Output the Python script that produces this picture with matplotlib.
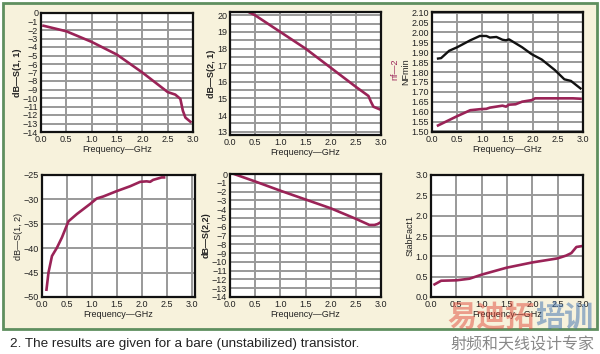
import matplotlib
matplotlib.use('Agg')
import matplotlib.pyplot as plt
from matplotlib.patches import Rectangle

FONT = ['Liberation Sans', 'DejaVu Sans']
CJK = ['Noto Sans CJK SC', 'DejaVu Sans']
plt.rcParams['font.family'] = FONT

PURPLE = '#9a2357'
BG = '#f7f2dc'

# S(1,1)
s11_f = [0.05, 0.5, 1.0, 1.5, 2.0, 2.5, 2.65, 2.75, 2.8, 2.85, 2.95]
s11_db = [-1.5, -2.15, -3.4, -4.9, -7.0, -9.3, -9.6, -10.1, -11.5, -12.3, -12.8]

# S(2,1)
s21_f = [0.37, 0.5, 1.0, 1.05, 1.5, 2.0, 2.5, 2.75, 2.8, 2.85, 2.97]
s21_db = [20.2, 20.0, 19.0, 18.9, 18.0, 16.85, 15.7, 15.15, 14.8, 14.5, 14.35]

# NFmin and nf(2)
nf_f = [0.12, 0.18, 0.34, 0.5, 0.76, 0.95, 1.08, 1.15, 1.28, 1.4, 1.47, 1.53,
        1.79, 1.98, 2.18, 2.44, 2.63, 2.76, 2.95]
nfmin = [1.868, 1.87, 1.907, 1.925, 1.96, 1.982, 1.982, 1.974, 1.977, 1.963,
         1.96, 1.965, 1.925, 1.89, 1.863, 1.81, 1.763, 1.755, 1.717]
nf2_f = [0.12, 0.5, 0.76, 0.95, 1.08, 1.15, 1.4, 1.47, 1.53, 1.66, 1.79, 1.98,
         2.05, 2.8, 2.95]
nf2 = [1.53, 1.577, 1.607, 1.612, 1.614, 1.62, 1.63, 1.625, 1.635, 1.637, 1.65,
       1.658, 1.667, 1.667, 1.665]

# S(1,2)
s12_f = [0.09, 0.13, 0.2, 0.3, 0.4, 0.53, 0.7, 0.97, 1.1, 1.23, 1.5, 1.77,
         1.97, 2.1, 2.17, 2.23, 2.4, 2.45]
s12_db = [-48.5, -45.0, -41.6, -39.9, -37.8, -34.5, -33.0, -30.9, -29.8, -29.4,
          -28.3, -27.3, -26.4, -26.3, -26.4, -26.0, -25.5, -25.5]

# S(2,2)
s22_f = [0.08, 0.5, 1.0, 1.5, 2.0, 2.5, 2.77, 2.87, 2.93, 2.99]
s22_db = [0.0, -0.85, -1.9, -2.9, -3.9, -5.1, -5.8, -5.8, -5.7, -5.5]

# StabFact1
k_f = [0.07, 0.2, 0.5, 0.76, 1.0, 1.49, 2.0, 2.5, 2.67, 2.77, 2.87, 2.97]
k_val = [0.31, 0.4, 0.41, 0.45, 0.55, 0.72, 0.85, 0.95, 1.02, 1.08, 1.23, 1.25]

x_ticks = [0.0, 0.5, 1.0, 1.5, 2.0, 2.5, 3.0]
x_labels = ['0.0', '0.5', '1.0', '1.5', '2.0', '2.5', '3.0']
k_ticks = [0.0, 0.5, 1.0, 1.5, 2.0, 2.5, 3.0]
k_labels = ['0.0', '0.5', '1.0', '2.5', '2.0', '2.5', '3.0']

W, H = 600, 354
fig = plt.figure(figsize=(6, 3.54), dpi=100)
fig.patch.set_facecolor('white')

# cream panel with green border (behind the axes)
fig.patches.append(Rectangle((3 / W, 1 - 329 / H), 594 / W, 326 / H,
                             transform=fig.transFigure, facecolor=BG,
                             edgecolor='#5f8f5f', linewidth=2, zorder=-10))

GRID = dict(color='#999999', lw=1.4)


def make_ax(px, ylim, yticks, ylabels, ylabel, bold_label=True, xlim=(0, 3.0), grid_y=None):
    x0, y0, x1, y1 = px
    rect = [x0 / W, 1 - y1 / H, (x1 - x0) / W, (y1 - y0) / H]
    # background axes that carries the white face and the grid
    bg = fig.add_axes(rect, zorder=-1)
    bg.set_facecolor('white')
    bg.set_xlim(*xlim)
    bg.set_ylim(*ylim)
    bg.set_xticks(x_ticks)
    bg.set_yticks(grid_y if grid_y is not None else yticks)
    bg.tick_params(length=0, labelleft=False, labelbottom=False)
    bg.grid(True, **GRID)
    for s in bg.spines.values():
        s.set_visible(False)

    ax = fig.add_axes(rect)
    ax.set_facecolor('none')
    ax.set_xlim(*xlim)
    ax.set_ylim(*ylim)
    ax.set_xticks(x_ticks)
    ax.set_xticklabels(x_labels)
    ax.set_yticks(yticks)
    ax.set_yticklabels(ylabels)
    ax.tick_params(which='both', length=0, labelsize=6.5, labelcolor='#222222', pad=2)
    for s in ax.spines.values():
        s.set_linewidth(1.6)
        s.set_color('#111111')
    ax.set_xlabel('Frequency\u2014GHz', fontsize=6.5, color='#222222', labelpad=1)
    ax.set_ylabel(ylabel, fontsize=6.5, color='#222222', labelpad=1,
                  fontweight='bold' if bold_label else 'normal')
    return ax


def fmt(v):
    return str(v).replace('-', '\u2212')


# panel 1 : S(1,1)
yt = list(range(-14, 1))
ax1 = make_ax((41, 13, 193, 132), (-14, 0), yt, [fmt(v) for v in yt], 'dB\u2014S(1, 1)')
ax1.plot(s11_f, s11_db, color=PURPLE, lw=1.9)

# panel 2 : S(2,1)
yt = list(range(13, 21))
ax2 = make_ax((230, 12, 381, 135), (12.8, 20.2), yt, [str(v) for v in yt], 'dB\u2014S(2, 1)',
              grid_y=[13 + 0.5 * i for i in range(15)])
ax2.plot(s21_f, s21_db, color=PURPLE, lw=1.9)

# panel 3 : NFmin / nf(2)
yt = [1.50 + 0.05 * i for i in range(13)]
ax3 = make_ax((432, 12, 583, 132), (1.497, 2.103), yt, [f'{v:.2f}' for v in yt], 'NFmin',
              bold_label=False)
ax3.plot(nf_f, nfmin, color='#111111', lw=1.7)
ax3.plot(nf2_f, nf2, color=PURPLE, lw=1.9)
ax3.text(-0.245, 0.52, 'nf\u20142', transform=ax3.transAxes, rotation=90, fontsize=6.5,
         color=PURPLE, ha='center', va='center')

# panel 4 : S(1,2)
yt = [-50, -45, -40, -35, -30, -25]
ax4 = make_ax((42, 175, 195, 297), (-50, -25), yt, [fmt(v) for v in yt], 'dB\u2014S(1, 2)',
              bold_label=False, xlim=(0, 3.07))
ax4.plot(s12_f, s12_db, color=PURPLE, lw=1.9)

# panel 5 : S(2,2)
yt = list(range(-14, 1))
ax5 = make_ax((230, 174, 381, 297), (-14, 0), yt, [fmt(v) for v in yt], 'dB\u2014S(2,2)')
ax5.plot(s22_f, s22_db, color=PURPLE, lw=1.9)

# panel 6 : StabFact1
ax6 = make_ax((431, 175, 583, 297), (0, 3.0), k_ticks, k_labels, 'StabFact1',
              bold_label=False)
ax6.plot(k_f, k_val, color=PURPLE, lw=1.9)

# caption
fig.text(10 / W, 1 - 344 / H, '2. The results are given for a bare (unstabilized) transistor.',
         fontsize=9.7, color='#222222', va='center', ha='left')

# watermark
fig.text(535 / W, 1 - 317 / H, '易迪拓', fontsize=21, color='#e04a3a', alpha=0.5,
         ha='right', va='center', fontweight='bold', family=CJK)
fig.text(535 / W, 1 - 317 / H, '培训', fontsize=21, color='#3b6fb0', alpha=0.5,
         ha='left', va='center', fontweight='bold', family=CJK)
fig.text(522 / W, 1 - 345 / H, '射频和天线设计专家', fontsize=11.5, color='#888888',
         ha='center', va='center', family=CJK)

fig.savefig('out.png', dpi=100, facecolor=fig.get_facecolor())
